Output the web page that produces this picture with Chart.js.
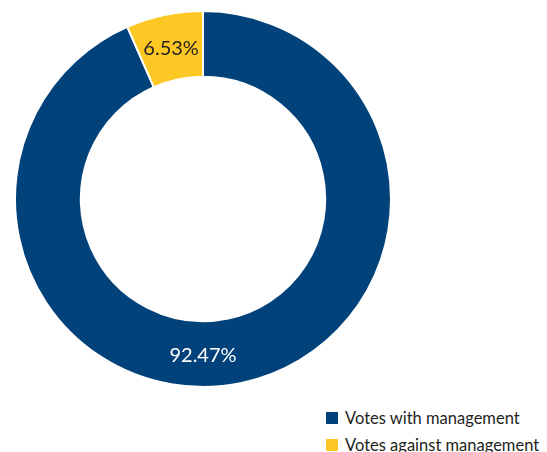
<!DOCTYPE html>
<html>
<head>
<meta charset="utf-8">
<script src="https://cdn.jsdelivr.net/npm/chart.js@4"></script>
<style>
  body { margin: 0; background: #fff; font-family: Lato, sans-serif; }
  #wrap { position: relative; width: 547px; height: 452px; overflow: hidden; }
  #box { position: absolute; left: 11px; top: 10px; width: 384px; height: 378px; }
  #legenda { position: absolute; left: 326px; top: 404px; font-size: 16.5px; color: #231f20; }
  .item { display: flex; align-items: center; height: 27px; }
  .cor { width: 12px; height: 12px; margin-right: 7px; }
</style>
</head>
<body>
<div id="wrap">
  <div id="box"><canvas id="graficoVotos"></canvas></div>
  <div id="legenda"></div>
</div>
<script>
// Dados do gráfico
const categorias = ["Votes with management", "Votes against management"];
const valores = [92.47, 6.53];
const rotulos = ["92.47%", "6.53%"];
const cores = ["#02427a", "#fdc823"];
const coresTexto = ["#ffffff", "#231f20"];

// Rótulos dentro das fatias
const pluginRotulos = {
    id: "rotulos",
    afterDatasetsDraw(chart) {
        const ctx = chart.ctx;
        const meta = chart.getDatasetMeta(0);
        ctx.save();
        ctx.font = "20px Lato";
        ctx.textAlign = "center";
        ctx.textBaseline = "middle";
        meta.data.forEach((arc, i) => {
            const p = arc.getProps(["x", "y", "startAngle", "endAngle", "innerRadius", "outerRadius"], true);
            const r = (p.innerRadius + p.outerRadius) / 2;
            // se a fatia passa pela parte de baixo, o rótulo fica embaixo
            let ang = (p.startAngle + p.endAngle) / 2;
            if (p.startAngle < Math.PI / 2 && p.endAngle > Math.PI / 2) ang = Math.PI / 2;
            ctx.fillStyle = coresTexto[i];
            ctx.fillText(rotulos[i], p.x + Math.cos(ang) * r, p.y + Math.sin(ang) * r + 1);
        });
        ctx.restore();
    }
};

const ctx = document.getElementById("graficoVotos").getContext("2d");
window.votosChart = new Chart(ctx, {
    type: "doughnut",
    data: {
        labels: categorias,
        datasets: [{
            data: valores,
            backgroundColor: cores,
            borderColor: "#ffffff",
            borderWidth: 2,
        }],
    },
    options: {
        responsive: true,
        maintainAspectRatio: false,
        animation: false,
        cutout: "65%",
        layout: { padding: 0 },
        plugins: {
            legend: { display: false },
            tooltip: { enabled: false },
        },
    },
    plugins: [pluginRotulos],
});

// Legenda em HTML
const legenda = document.getElementById("legenda");
categorias.forEach((nome, i) => {
    const item = document.createElement("div");
    item.className = "item";
    item.innerHTML = `<span class="cor" style="background:${cores[i]}"></span><span>${nome}</span>`;
    legenda.appendChild(item);
});
</script>
</body>
</html>
